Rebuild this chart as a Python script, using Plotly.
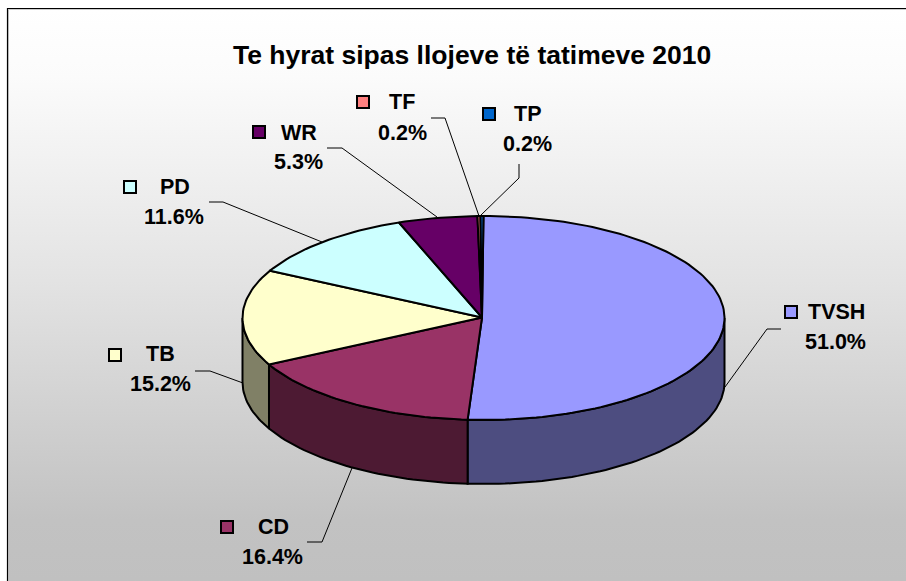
import numpy as np
import plotly.graph_objects as go

# ---- data ----
categories = ["TVSH", "CD", "TB", "PD", "WR", "TF", "TP"]
shares = [51.0, 16.4, 15.2, 11.6, 5.3, 0.2, 0.2]
value_labels = ["51.0%", "16.4%", "15.2%", "11.6%", "5.3%", "0.2%", "0.2%"]
title_text = "Te hyrat sipas llojeve të tatimeve 2010"

# ---- styles ----
top_colors = ["#9999FF", "#993366", "#FFFFCC", "#CCFFFF", "#660066", "#FF8080", "#0066CC"]
side_colors = ["#4D4D80", "#4D1A33", "#808066", "#668080", "#330033", "#804040", "#003366"]
FONT = "Liberation Sans"
W, H = 906, 581
CX, CY, RX, RY, DEPTH = 483.5, 318, 241, 102, 64
APEX_X, APEX_Y = 482, 317.5

# ---- layout of the labels (pixel positions on the page) ----
label_pos = {
    "TVSH": dict(key=(791, 312), name=(836, 311.5), val=(835, 341.5),
                 leader=[(781, 329), (767, 329), (725, 387)]),
    "CD": dict(key=(227, 527), name=(273, 526.5), val=(272, 556.5),
               leader=[(307, 542), (322, 542), (352, 468)]),
    "TB": dict(key=(115, 355), name=(160, 354), val=(160, 383.5),
               leader=[(195, 371), (210, 371), (243, 383)]),
    "PD": dict(key=(130, 187), name=(174.5, 186.5), val=(174, 216.5),
               leader=[(209, 202), (223, 202), (322, 242)]),
    "WR": dict(key=(259, 132), name=(299, 132.5), val=(298, 162),
               leader=[(327, 148), (342, 148), (437, 217)]),
    "TF": dict(key=(363, 102), name=(402, 102), val=(402, 132.5),
               leader=[(431, 118), (445, 118), (479, 216)]),
    "TP": dict(key=(489, 114), name=(527, 113.5), val=(527, 144),
               leader=[(519, 164), (519, 178), (480, 216)]),
}

fig = go.Figure()

# background gradient
fig.add_trace(go.Scatter(
    x=[8, W, W, 8, 8], y=[9, 9, H, H, 9], mode="none", fill="toself",
    fillgradient=dict(type="vertical",
                      colorscale=[[0, "#C0C0C0"], [0.107, "#C2C2C2"], [0.525, "#E3E3E3"],
                                  [0.88, "#FBFBFB"], [1, "#FFFFFF"]]),
    hoverinfo="skip", showlegend=False))
# chart frame
fig.add_trace(go.Scatter(x=[8.5, 8.5, W], y=[H, 9.5, 9.5], mode="lines",
                         line=dict(color="#CCCCCC", width=1), hoverinfo="skip", showlegend=False))
fig.add_trace(go.Scatter(x=[7.5, 7.5, W], y=[H, 8.5, 8.5], mode="lines",
                         line=dict(color="#000", width=1.2), hoverinfo="skip", showlegend=False))

# pie geometry derived from the values
fractions = np.array(shares) / np.sum(shares)
ends = np.cumsum(fractions) * 2 * np.pi
starts = np.concatenate([[0], ends[:-1]])


def rim(a0, a1, drop=0.0):
    n = max(2, int(np.degrees(a1 - a0) / 1.5) + 2)
    t = np.linspace(a0, a1, n)
    return CX + RX * np.sin(t), CY - RY * np.cos(t) + drop


# side walls: only the front half (90..270 degrees) is visible
for a0, a1, col in zip(starts, ends, side_colors):
    lo, hi = max(a0, np.pi / 2), min(a1, 3 * np.pi / 2)
    if hi <= lo:
        continue
    xt, yt = rim(lo, hi)
    xb, yb = rim(lo, hi, DEPTH)
    fig.add_trace(go.Scatter(
        x=np.concatenate([xt, xb[::-1], xt[:1]]), y=np.concatenate([yt, yb[::-1], yt[:1]]),
        mode="lines", fill="toself", fillcolor=col, line=dict(color="#000", width=2),
        hoverinfo="skip", showlegend=False))

# top faces
for a0, a1, col in zip(starts, ends, top_colors):
    xr, yr = rim(a0, a1)
    fig.add_trace(go.Scatter(
        x=np.concatenate([[APEX_X], xr, [APEX_X]]), y=np.concatenate([[APEX_Y], yr, [APEX_Y]]),
        mode="lines", fill="toself", fillcolor=col, line=dict(color="#000", width=2),
        hoverinfo="skip", showlegend=False))

annotations = [dict(x=471.5, y=55, xref="x", yref="y", text=f"<b>{title_text}</b>", showarrow=False,
                    font=dict(family=FONT, size=26.5, color="#000"))]

for cat, val, col in zip(categories, value_labels, top_colors):
    p = label_pos[cat]
    lx, ly = zip(*p["leader"])
    fig.add_trace(go.Scatter(x=lx, y=ly, mode="lines", line=dict(color="#000", width=1),
                             hoverinfo="skip", showlegend=False))
    fig.add_trace(go.Scatter(x=[p["key"][0]], y=[p["key"][1]], mode="markers",
                             marker=dict(symbol="square", size=12, color=col,
                                         line=dict(color="#000", width=2)),
                             hoverinfo="skip", showlegend=False))
    for txt, pos in ((cat, p["name"]), (val, p["val"])):
        annotations.append(dict(x=pos[0], y=pos[1], xref="x", yref="y", text=f"<b>{txt}</b>",
                                showarrow=False, font=dict(family=FONT, size=21.5, color="#000")))

fig.update_layout(
    width=W, height=H, autosize=False, margin=dict(l=0, r=0, t=0, b=0),
    paper_bgcolor="#FFFFFF", plot_bgcolor="rgba(0,0,0,0)", showlegend=False,
    xaxis=dict(range=[0, W], visible=False, fixedrange=True),
    yaxis=dict(range=[H, 0], visible=False, fixedrange=True),
    annotations=annotations)

fig.write_html("out.html", config=dict(displayModeBar=False),
               post_script="document.body.style.margin='0';")
